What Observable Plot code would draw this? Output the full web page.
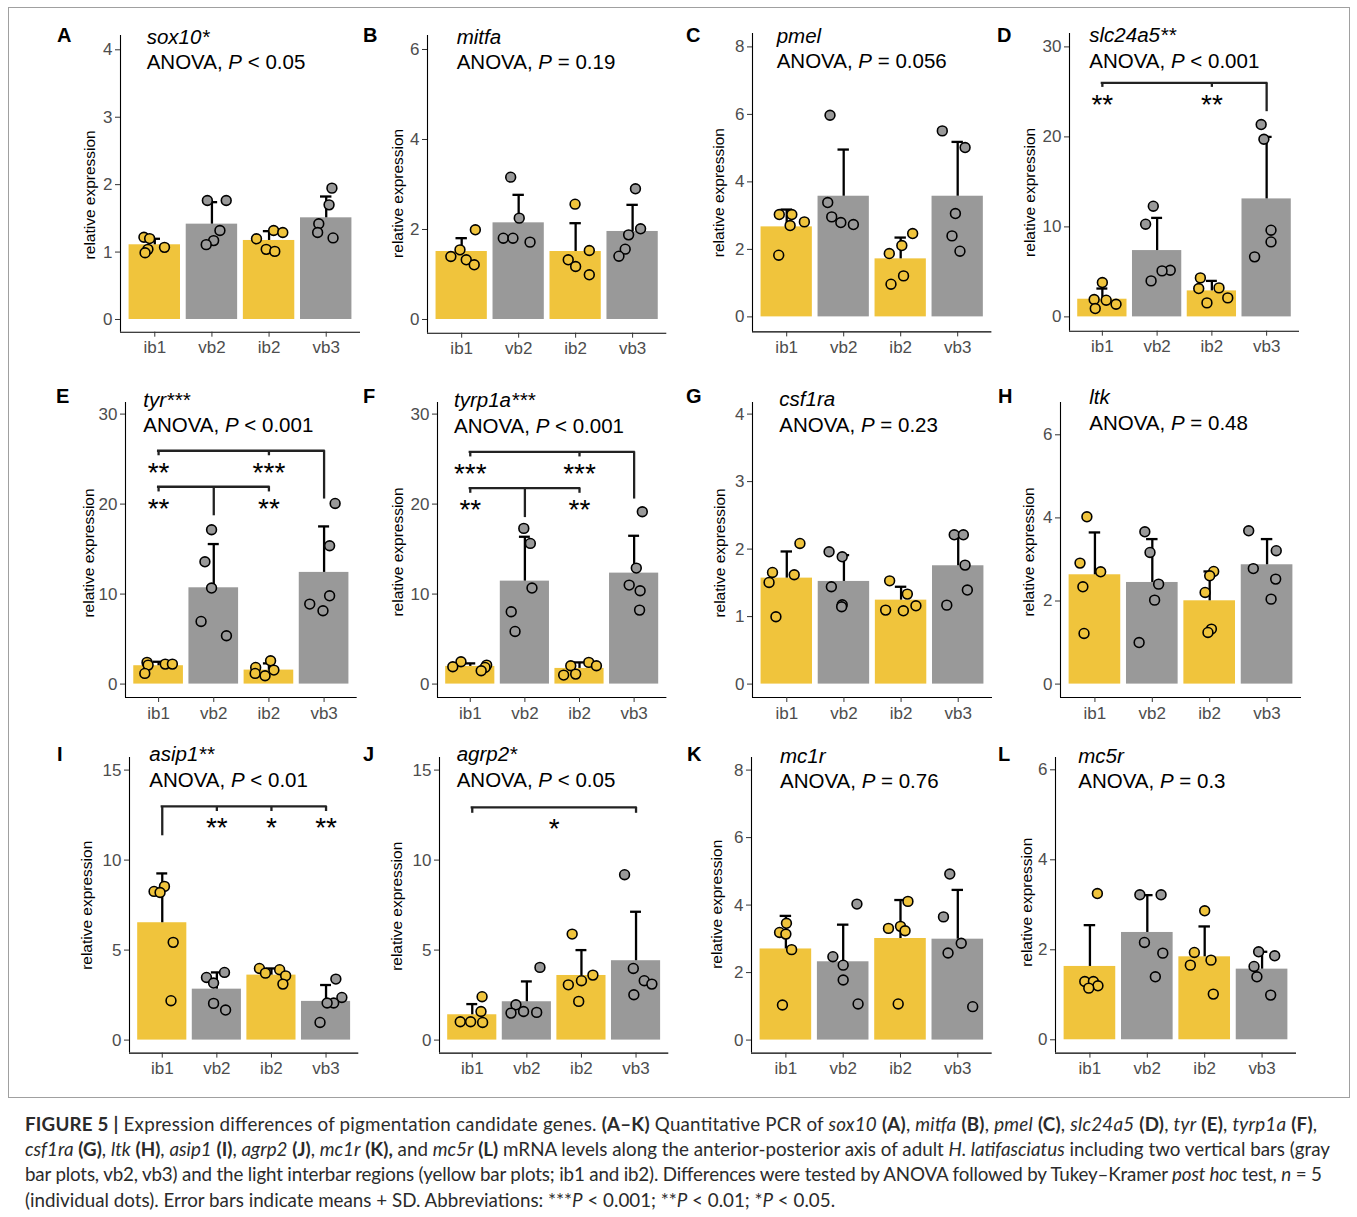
<!DOCTYPE html>
<html><head><meta charset="utf-8">
<script src="https://cdn.jsdelivr.net/npm/d3@7"></script>
<script src="https://cdn.jsdelivr.net/npm/@observablehq/plot@0.6"></script>
<style>
body{margin:0;background:#fff;}
#fig{position:relative;width:1357px;height:1217px;overflow:hidden;font-family:"Liberation Sans",Arial,sans-serif;background:#fff;}
#fig svg.plotpanel{position:absolute;overflow:visible;}
</style></head><body><div id="fig"></div>
<script>
// ---------------- DATA ----------------
const categories = ["ib1", "vb2", "ib2", "vb3"];
const panelLetters = ["A","B","C","D","E","F","G","H","I","J","K","L"];
const geneLabels = ["sox10*","mitfa","pmel","slc24a5**","tyr***","tyrp1a***","csf1ra","ltk","asip1**","agrp2*","mc1r","mc5r"];
const anovaRelation = ["<","=","=","<","<","<","=","=","<","<","=","="];
const anovaValue = ["0.05","0.19","0.056","0.001","0.001","0.001","0.23","0.48","0.01","0.05","0.76","0.3"];
const yTicks = [[0,1,2,3,4],[0,2,4,6],[0,2,4,6,8],[0,10,20,30],[0,10,20,30],[0,10,20,30],[0,1,2,3,4],[0,2,4,6],[0,5,10,15],[0,5,10,15],[0,2,4,6,8],[0,2,4,6]];
const yLabel = "relative expression";

const means = [
  [1.108, 1.414, 1.172, 1.508],
  [1.511, 2.148, 1.511, 1.956],
  [2.667, 3.575, 1.719, 3.575],
  [1.963, 7.37, 2.889, 13.11],
  [2.04, 10.70, 1.556, 12.41],
  [1.963, 11.44, 1.74, 12.33],
  [1.570, 1.521, 1.244, 1.753],
  [2.631, 2.446, 2.005, 2.872],
  [6.52, 2.83, 3.61, 2.15],
  [1.407, 2.13, 3.59, 4.41],
  [2.70, 2.32, 3.01, 2.99],
  [1.63, 2.385, 1.844, 1.57]
];
const meanPlusSD = [
  [1.197, 1.74, 1.31, 1.824],
  [1.807, 2.77, 2.14, 2.548],
  [3.18, 4.958, 2.35, 5.185],
  [3.15, 11.0, 4.0, 20.0],
  [2.48, 15.56, 2.30, 17.52],
  [2.30, 16.37, 2.41, 16.48],
  [1.965, 1.911, 1.442, 2.21],
  [3.65, 3.49, 2.711, 3.49],
  [9.26, 3.76, 3.98, 3.06],
  [2.0, 3.26, 5.0, 7.13],
  [3.68, 3.42, 4.15, 4.45],
  [2.548, 3.215, 2.519, 1.956]
];
// individual dots: [panel][category][5 samples]
const dotValues = [
  [[1.22,1.20,1.04,0.99,1.07],[1.765,1.765,1.32,1.17,1.11],[1.197,1.32,1.29,1.04,1.01],[1.948,1.70,1.42,1.29,1.21]],
  [[1.993,1.548,1.40,1.326,1.215],[3.163,2.252,1.807,1.807,1.719],[2.563,1.533,1.326,1.178,0.993],[2.904,2.015,1.881,1.563,1.407]],
  [[3.032,3.032,2.706,2.815,1.827],[5.975,3.388,2.963,2.795,2.736],[2.469,2.114,1.877,1.215,0.968],[5.511,5.017,3.062,2.4,1.946]],
  [[3.815,1.926,1.852,1.407,0.926],[12.3,10.3,5.185,5.11,4.0],[4.333,3.148,3.222,2.111,1.556],[21.37,19.74,9.63,8.33,6.67]],
  [[2.41,2.11,2.22,2.22,1.185],[17.15,13.59,10.67,6.96,5.37],[2.59,1.85,1.556,1.185,0.926],[20.07,15.37,9.81,8.89,8.15]],
  [[2.48,1.926,2.11,1.85,1.48],[17.30,15.63,10.67,8.04,5.85],[2.41,2.04,2.04,1.0,1.11],[19.15,12.89,11.0,10.37,8.22]],
  [[2.084,1.654,1.62,1.506,0.998],[1.96,1.886,1.442,1.175,1.146],[1.53,1.333,1.16,1.086,1.096],[2.212,2.212,1.763,1.393,1.17]],
  [[4.027,2.912,2.703,2.342,1.219],[3.666,3.168,2.406,2.021,1.0],[2.711,2.607,2.206,1.324,1.243],[3.69,3.21,2.78,2.527,2.045]],
  [[8.54,8.26,8.20,5.43,2.19],[3.76,3.48,3.17,2.04,1.67],[3.98,3.91,3.72,3.57,3.11],[3.39,2.37,2.06,2.06,0.98]],
  [[2.41,1.59,1.02,1.02,0.98],[4.04,1.96,1.59,1.5,1.54],[5.89,3.61,3.30,3.07,2.15],[9.19,3.98,3.30,3.11,2.52]],
  [[3.46,3.19,3.14,2.68,1.04],[4.03,2.47,2.22,1.78,1.07],[4.11,3.31,3.37,3.24,1.07],[4.92,3.65,2.87,2.58,0.99]],
  [[3.25,1.296,1.296,1.2,1.148],[3.222,3.222,2.163,1.926,1.4],[2.867,1.941,1.77,1.659,1.015],[1.956,1.867,1.63,1.4,0.993]]
];
// horizontal jitter of each dot, in category units
const dotJitter = [
  [[-0.19,-0.09,-0.12,-0.17,0.17],[-0.08,0.25,0.14,0.03,-0.10],[-0.22,0.08,0.24,-0.05,0.10],[0.10,0.05,-0.13,-0.15,0.12]],
  [[0.24,-0.03,-0.19,0.08,0.22],[-0.14,0.01,-0.27,-0.10,0.20],[-0.01,0.24,-0.13,0.0,0.24],[0.05,0.14,-0.07,-0.13,-0.24]],
  [[-0.13,0.09,0.06,0.31,-0.14],[-0.24,-0.28,-0.21,-0.05,0.17],[0.21,0.02,-0.20,0.05,-0.17],[-0.27,0.13,-0.04,-0.10,0.04]],
  [[0,-0.15,0.07,0.25,-0.13],[-0.07,-0.21,0.24,0.09,-0.11],[-0.21,-0.24,0.13,0.29,-0.09],[-0.10,-0.05,0.08,0.08,-0.22]],
  [[-0.21,-0.19,0.12,0.25,-0.25],[-0.04,-0.16,-0.04,-0.23,0.23],[0.03,-0.24,0.09,-0.25,-0.07],[0.20,0.10,0.10,-0.26,-0.02]],
  [[-0.17,-0.32,0.30,0.27,0.20],[-0.02,0.10,0.13,-0.25,-0.18],[0.17,0.31,-0.16,-0.29,-0.07],[0.15,0.04,-0.09,0.11,0.10]],
  [[0.23,-0.25,0.13,-0.31,-0.19],[-0.26,-0.03,-0.22,-0.03,-0.04],[-0.20,0.11,0.26,0.04,-0.27],[-0.07,0.09,0.12,0.16,-0.20]],
  [[-0.14,-0.26,0.10,-0.21,-0.19],[-0.13,-0.04,0.11,0.04,-0.23],[0.07,0,-0.08,0.03,-0.03],[-0.32,0.16,-0.24,0.15,0.07]],
  [[0.04,-0.15,-0.04,0.20,0.16],[0.14,-0.19,-0.06,-0.06,0.16],[-0.22,0.15,-0.11,0.26,0.21],[0.18,0.29,0.14,0.02,-0.11]],
  [[0.18,0.16,-0.22,-0.03,0.19],[0.24,-0.20,-0.06,-0.29,0.18],[-0.17,0.21,0,-0.24,-0.05],[-0.21,-0.05,0.15,0.29,-0.04]],
  [[0.01,-0.11,0,0.10,-0.06],[0.24,-0.18,0,0,0.26],[0.13,-0.21,0,0.08,-0.04],[-0.14,-0.25,0.06,-0.17,0.26]],
  [[0.13,-0.09,0.06,0.14,-0.02],[-0.13,0.24,-0.05,0.27,0.14],[0,-0.18,0.11,-0.25,0.15],[-0.06,0.22,-0.14,-0.09,0.15]]
];
// significance brackets: y of the bar, drop ends per category, star labels
const brackets = [
  {panel:"D", y:26.0,  drops:[["ib1",25.5],["ib2",25.5],["vb3",22.8]],  labels:[["ib1","**"],["ib2","**"]]},
  {panel:"E", y:25.93, drops:[["ib1",25.37],["ib2",25.37],["vb3",20.56]], labels:[["ib1","**"],["ib2","***"]]},
  {panel:"E", y:21.93, drops:[["ib1",21.35],["ib2",21.35],["vb2",18.7]], labels:[["ib1","**"],["ib2","**"]]},
  {panel:"F", y:25.8,  drops:[["ib1",25.24],["ib2",25.24],["vb3",20.56]], labels:[["ib1","***"],["ib2","***"]]},
  {panel:"F", y:21.78, drops:[["ib1",21.2],["ib2",21.2],["vb2",18.5]],  labels:[["ib1","**"],["ib2","**"]]},
  {panel:"I", y:12.98, drops:[["ib1",11.35],["vb2",12.7],["ib2",12.7],["vb3",12.7]], labels:[["vb2","**"],["ib2","*"],["vb3","**"]]},
  {panel:"J", y:12.93, drops:[["ib1",12.6],["vb3",12.6]], labels:[["mid","*"]]}
];
const captionLines = [
  "<b>FIGURE 5 |</b> Expression differences of pigmentation candidate genes. <b>(A–K)</b> Quantitative PCR of <i>sox10</i> <b>(A)</b>, <i>mitfa</i> <b>(B)</b>, <i>pmel</i> <b>(C)</b>, <i>slc24a5</i> <b>(D)</b>, <i>tyr</i> <b>(E)</b>, <i>tyrp1a</i> <b>(F)</b>,",
  "<i>csf1ra</i> <b>(G)</b>, <i>ltk</i> <b>(H)</b>, <i>asip1</i> <b>(I)</b>, <i>agrp2</i> <b>(J)</b>, <i>mc1r</i> <b>(K),</b> and <i>mc5r</i> <b>(L)</b> mRNA levels along the anterior-posterior axis of adult <i>H. latifasciatus</i> including two vertical bars (gray",
  "bar plots, vb2, vb3) and the light interbar regions (yellow bar plots; ib1 and ib2). Differences were tested by ANOVA followed by Tukey–Kramer <i>post hoc</i> test, <i>n</i> = 5",
  "(individual dots). Error bars indicate means + SD. Abbreviations: ***<i>P</i> < 0.001; **<i>P</i> < 0.01; *<i>P</i> < 0.05."
];

// ---------------- LAYOUT / STYLE ----------------
const FONT = "Liberation Sans, Arial, sans-serif";
const YELLOW = "#F0C43C", GRAY = "#999999";
const colorOf = c => c.startsWith("ib") ? YELLOW : GRAY;
// panel frame in page pixels: axis left/right, top, x-axis line, pixel of 0 and of the top tick, y-title offsets
const layout = {
  A:{L:120,R:360,T:35,B:331.7,y0:319,yt:49.3,ldx:-30,ldy:11},
  B:{L:426.7,R:666,T:35,B:332.7,y0:319,yt:49,ldx:-29.7,ldy:9},
  C:{L:752.3,R:991.7,T:33.3,B:331.7,y0:316.7,yt:46.7,ldx:-33.5,ldy:10},
  D:{L:1069.3,R:1299.3,T:33.3,B:331,y0:316.7,yt:46.7,ldx:-39.6,ldy:10},
  E:{L:125,R:356.7,T:401.7,B:696.7,y0:683.3,yt:413.3,ldx:-36.7,ldy:3},
  F:{L:437.3,R:666.7,T:401.7,B:696.7,y0:683.3,yt:413.3,ldx:-39.5,ldy:2},
  G:{L:751.7,R:991.7,T:401.7,B:696.7,y0:683.3,yt:413.3,ldx:-32,ldy:3},
  H:{L:1060,R:1301,T:401.7,B:696.7,y0:683.3,yt:434,ldx:-31.3,ldy:2},
  I:{L:129,R:358.3,T:756.7,B:1052.3,y0:1039.3,yt:769.3,ldx:-42,ldy:0},
  J:{L:439,R:668.3,T:756.7,B:1052.3,y0:1039.3,yt:769.3,ldx:-42.7,ldy:1},
  K:{L:751,R:991.7,T:756.7,B:1052.3,y0:1039.3,yt:769.3,ldx:-34,ldy:-1},
  L:{L:1055,R:1296,T:756.7,B:1052.3,y0:1039,yt:769,ldx:-28.7,ldy:-3}
};
const titleX = [146.7,456.7,776.7,1089.3,143.3,454,779.3,1089.3,149.3,456.7,780,1078.3];
const titleBase = [69,69,68,67.7,432,432.5,431.7,429.5,786.7,786.7,788.3,788.3];
const letterX = [57,363,686,997,56,363,686,998,57,363,687,998];
const letterBase = [42,42,42,42,403,403,403,403,761,761,761,761];

const fig = document.getElementById("fig");

panelLetters.forEach((P, p) => {
  const g = layout[P];
  const ticks = yTicks[p];
  const topTick = ticks[ticks.length - 1];
  const unit = (g.y0 - g.yt) / topTick;
  const yLo = -(g.B - g.y0) / unit;
  const yHi = topTick + (g.yt - g.T) / unit;
  const mL = 75, mR = 12, mT = 10, mB = 40;
  const W = g.R - g.L + mL + mR, H = g.B - g.T + mT + mB;
  const idx = c => categories.indexOf(c) + 1;
  const bars = categories.map((c, i) => ({i: i + 1, mean: means[p][i], upper: meanPlusSD[p][i], col: colorOf(c)}));
  const dots = [];
  categories.forEach((c, i) => dotValues[p][i].forEach((v, k) =>
    dots.push({x: i + 1 + dotJitter[p][i][k], v, col: colorOf(c)})));
  const marks = [
    Plot.rect(bars, {x1: d => d.i - 0.45, x2: d => d.i + 0.45, y1: () => 0, y2: "mean", fill: "col"}),
    Plot.ruleX(bars, {x: "i", y1: "mean", y2: "upper", stroke: "#000", strokeWidth: 2.3}),
    Plot.ruleY(bars, {y: "upper", x1: d => d.i - 0.1, x2: d => d.i + 0.1, stroke: "#000", strokeWidth: 2.3}),
    Plot.dot(dots, {x: "x", y: "v", r: 4.9, fill: "col", stroke: "#000", strokeWidth: 1.6}),
    Plot.ruleY([yLo], {stroke: "#000", strokeWidth: 1.1}),
    Plot.ruleX([0.4], {y1: () => yLo, y2: () => yHi, stroke: "#000", strokeWidth: 1.1}),
    Plot.axisX({ticks: [1,2,3,4], tickFormat: d => categories[d - 1], tickSize: 5, tickPadding: 4, fontSize: 17, stroke: "#333", fill: "#4d4d4d", label: null}),
    Plot.axisY({ticks, tickFormat: d => String(d), tickSize: 5, tickPadding: 3, fontSize: 17, stroke: "#333", fill: "#4d4d4d", label: null}),
    Plot.text([yLabel], {frameAnchor: "left", textAnchor: "middle", dx: g.ldx, dy: g.ldy, rotate: -90, fontSize: 15.5, fill: "#000"})
  ];
  brackets.filter(b => b.panel === P).forEach(b => {
    const xs = b.drops.map(d => idx(d[0]));
    const x1 = Math.min(...xs), x2 = Math.max(...xs);
    marks.push(Plot.ruleY([b], {y: "y", x1: () => x1, x2: () => x2, stroke: "#222", strokeWidth: 2.3, strokeLinecap: "square"}));
    marks.push(Plot.ruleX(b.drops, {x: d => idx(d[0]), y1: () => b.y, y2: d => d[1], stroke: "#222", strokeWidth: 2.3}));
    marks.push(Plot.text(b.labels, {x: d => d[0] === "mid" ? (x1 + x2) / 2 : idx(d[0]), y: () => b.y, text: d => d[1],
      lineAnchor: "top", dy: 11, fontSize: 28, fill: "#000"}));
  });
  const svg = Plot.plot({
    width: W, height: H, marginLeft: mL, marginRight: mR, marginTop: mT, marginBottom: mB,
    x: {type: "linear", domain: [0.4, 4.6]},
    y: {domain: [yLo, yHi]},
    color: {type: "identity"},
    style: {fontFamily: FONT, fontSize: "17px", background: "transparent"},
    marks
  });
  svg.classList.add("plotpanel");
  svg.style.left = (g.L - mL) + "px";
  svg.style.top = (g.T - mT) + "px";
  fig.appendChild(svg);
});

// ---------------- overlay text ----------------
const ov = d3.select(fig).append("svg")
  .attr("width", 1357).attr("height", 1217)
  .style("position", "absolute").style("left", "0px").style("top", "0px")
  .style("pointer-events", "none")
  .attr("font-family", FONT);

ov.append("rect").attr("x", 8.5).attr("y", 7.5).attr("width", 1341).attr("height", 1090)
  .attr("fill", "none").attr("stroke", "#a0a0a0").attr("stroke-width", 1);

panelLetters.forEach((P, p) => {
  ov.append("text").attr("x", letterX[p]).attr("y", letterBase[p])
    .attr("font-size", 20).attr("font-weight", "bold").attr("fill", "#000").text(P);
  ov.append("text").attr("x", titleX[p]).attr("y", titleBase[p] - 25.5)
    .attr("font-size", 20.5).attr("font-style", "italic").attr("fill", "#000").text(geneLabels[p]);
  const t = ov.append("text").attr("x", titleX[p]).attr("y", titleBase[p])
    .attr("font-size", 20.5).attr("fill", "#000").style("white-space", "pre");
  t.append("tspan").text("ANOVA, ");
  t.append("tspan").attr("font-style", "italic").text("P");
  t.append("tspan").text(" " + anovaRelation[p] + " " + anovaValue[p]);
});

// caption
const capG = ov.append("g").attr("fill", "#2b2b2b").attr("font-family", "Lato, 'Liberation Sans', sans-serif");
const capTexts = captionLines.map((line, k) => {
  const t = capG.append("text").attr("x", 25).attr("y", 1131 + k * 25.2).attr("font-size", 16).style("white-space", "pre");
  let bold = false, ital = false;
  line.split(/(<\/?[bi]>)/).forEach(tok => {
    if (tok === "<b>") bold = true; else if (tok === "</b>") bold = false;
    else if (tok === "<i>") ital = true; else if (tok === "</i>") ital = false;
    else if (tok.length) {
      const s = t.append("tspan").text(tok);
      if (bold) s.attr("font-weight", "bold");
      if (ital) s.attr("font-style", "italic");
    }
  });
  return t;
});
const w2 = capTexts[1].node().getComputedTextLength();
const fs = 16 * 1305 / w2;
capTexts.forEach(t => t.attr("font-size", fs));
const targets = [1292, 1305, 1297, null];
capTexts.forEach((t, k) => {
  if (targets[k]) t.attr("textLength", targets[k]).attr("lengthAdjust", "spacing");
});
</script>
</body></html>
